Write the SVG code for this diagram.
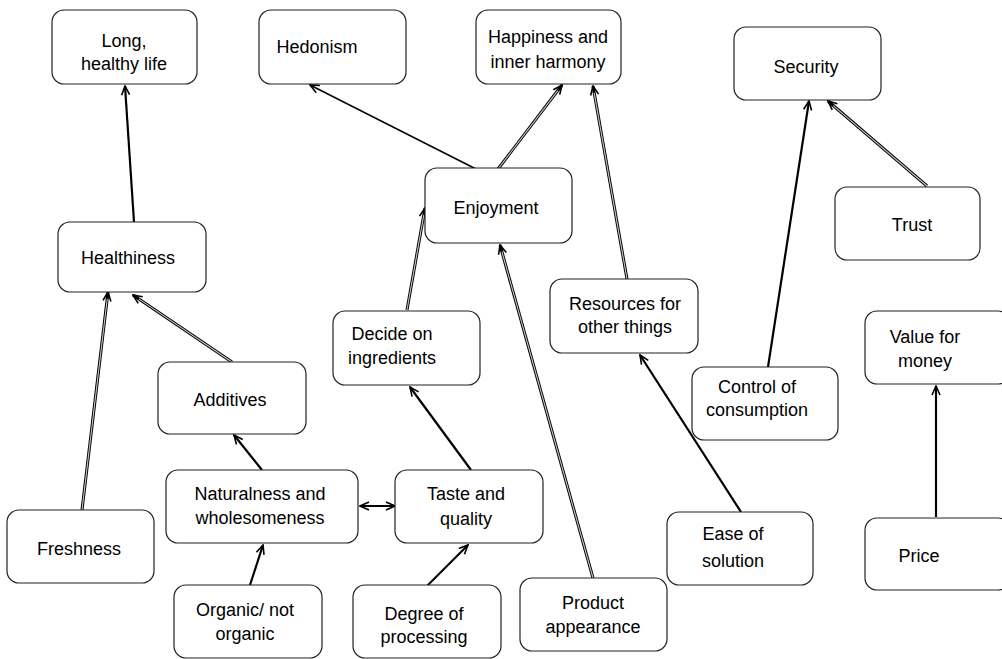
<svg xmlns="http://www.w3.org/2000/svg" width="1002" height="659" viewBox="0 0 1002 659">
  <style>
    .box { fill: #fff; stroke: #222; stroke-width: 1.2; }
    .lbl { font-family: "Liberation Sans", Arial, sans-serif; font-size: 18px; fill: #000; text-anchor: middle; }
    .thin { stroke: #000; stroke-width: 1.5; fill: none; }
    .thick { stroke: #000; stroke-width: 2.2; fill: none; }
    .dbl { stroke: #000; stroke-width: 3; fill: none; }
    .core { stroke: #c8c8c8; stroke-width: 1.1; fill: none; }
  </style>
  <defs>
    <marker id="arr" markerUnits="userSpaceOnUse" markerWidth="11" markerHeight="10" refX="10" refY="5" orient="auto-start-reverse">
      <path d="M1,1 L10,5 L1,9" fill="none" stroke="#000" stroke-width="1.6"/>
    </marker>
  </defs>
  <rect width="1002" height="659" fill="#fff"/>

  <g id="connectors">
    <line class="thick" x1="134" y1="222" x2="125" y2="86" marker-end="url(#arr)"/>
    <line class="thin" x1="476" y1="169" x2="310" y2="85" marker-end="url(#arr)"/>
    <line class="dbl" x1="498" y1="169" x2="562" y2="85" marker-end="url(#arr)"/>
    <line class="core" x1="498" y1="169" x2="557.8" y2="90.6"/>
    <line class="dbl" x1="407" y1="310" x2="425" y2="208" marker-end="url(#arr)"/>
    <line class="core" x1="407" y1="310" x2="423.8" y2="214.9"/>
    <line class="dbl" x1="593" y1="578" x2="500" y2="245" marker-end="url(#arr)"/>
    <line class="core" x1="593" y1="578" x2="501.9" y2="251.7"/>
    <line class="dbl" x1="627" y1="279" x2="593" y2="86" marker-end="url(#arr)"/>
    <line class="core" x1="627" y1="279" x2="594.2" y2="92.9"/>
    <line class="thick" x1="768" y1="367" x2="809" y2="101" marker-end="url(#arr)"/>
    <line class="dbl" x1="927" y1="186" x2="828" y2="101" marker-end="url(#arr)"/>
    <line class="core" x1="927" y1="186" x2="833.3" y2="105.6"/>
    <line class="thick" x1="741" y1="512" x2="640" y2="355" marker-end="url(#arr)"/>
    <line class="thick" x1="936" y1="517" x2="936" y2="386" marker-end="url(#arr)"/>
    <line class="dbl" x1="82" y1="510" x2="108" y2="292" marker-end="url(#arr)"/>
    <line class="core" x1="82" y1="510" x2="107.2" y2="299"/>
    <line class="dbl" x1="232" y1="362" x2="133" y2="295" marker-end="url(#arr)"/>
    <line class="core" x1="232" y1="362" x2="138.8" y2="298.9"/>
    <line class="thick" x1="262" y1="470" x2="234" y2="435" marker-end="url(#arr)"/>
    <line class="thick" x1="360" y1="506" x2="395" y2="506" marker-start="url(#arr)" marker-end="url(#arr)"/>
    <line class="thick" x1="471" y1="470" x2="410" y2="387" marker-end="url(#arr)"/>
    <line class="thick" x1="250" y1="585" x2="263" y2="545" marker-end="url(#arr)"/>
    <line class="thick" x1="427" y1="586" x2="468" y2="545" marker-end="url(#arr)"/>
  </g>

  <g id="long-healthy-life"><rect class="box" x="52" y="10" width="145" height="74" rx="12"/><text class="lbl" x="124" y="47">Long,</text><text class="lbl" x="124" y="70">healthy life</text></g>
  <g id="hedonism"><rect class="box" x="259" y="10" width="147" height="74" rx="12"/><text class="lbl" x="317" y="53">Hedonism</text></g>
  <g id="happiness"><rect class="box" x="476" y="10" width="145" height="74" rx="12"/><text class="lbl" x="548" y="43">Happiness and</text><text class="lbl" x="548" y="68">inner harmony</text></g>
  <g id="security"><rect class="box" x="734" y="27" width="147" height="73" rx="12"/><text class="lbl" x="806" y="73">Security</text></g>
  <g id="enjoyment"><rect class="box" x="425" y="168" width="147" height="75" rx="12"/><text class="lbl" x="496" y="214">Enjoyment</text></g>
  <g id="trust"><rect class="box" x="835" y="187" width="145" height="73" rx="12"/><text class="lbl" x="912" y="231">Trust</text></g>
  <g id="healthiness"><rect class="box" x="58" y="222" width="148" height="70" rx="12"/><text class="lbl" x="128" y="264">Healthiness</text></g>
  <g id="resources"><rect class="box" x="550" y="279" width="148" height="74" rx="12"/><text class="lbl" x="625" y="310">Resources for</text><text class="lbl" x="625" y="333">other things</text></g>
  <g id="decide-on-ingredients"><rect class="box" x="333" y="311" width="147" height="74" rx="12"/><text class="lbl" x="392" y="340">Decide on</text><text class="lbl" x="392" y="364">ingredients</text></g>
  <g id="value-for-money"><rect class="box" x="865" y="311" width="145" height="73" rx="12"/><text class="lbl" x="925" y="343">Value for</text><text class="lbl" x="925" y="367">money</text></g>
  <g id="additives"><rect class="box" x="158" y="362" width="148" height="72" rx="12"/><text class="lbl" x="230" y="406">Additives</text></g>
  <g id="control-of-consumption"><rect class="box" x="692" y="367" width="146" height="73" rx="12"/><text class="lbl" x="757" y="393">Control of</text><text class="lbl" x="757" y="416">consumption</text></g>
  <g id="naturalness"><rect class="box" x="166" y="470" width="192" height="73" rx="12"/><text class="lbl" x="260" y="500">Naturalness and</text><text class="lbl" x="260" y="524">wholesomeness</text></g>
  <g id="taste-and-quality"><rect class="box" x="395" y="470" width="148" height="73" rx="12"/><text class="lbl" x="466" y="500">Taste and</text><text class="lbl" x="466" y="525">quality</text></g>
  <g id="freshness"><rect class="box" x="7" y="510" width="147" height="73" rx="12"/><text class="lbl" x="79" y="555">Freshness</text></g>
  <g id="ease-of-solution"><rect class="box" x="667" y="512" width="146" height="73" rx="12"/><text class="lbl" x="733" y="540">Ease of</text><text class="lbl" x="733" y="567">solution</text></g>
  <g id="price"><rect class="box" x="865" y="518" width="145" height="72" rx="12"/><text class="lbl" x="919" y="562">Price</text></g>
  <g id="organic"><rect class="box" x="174" y="585" width="148" height="73" rx="12"/><text class="lbl" x="245" y="616">Organic/ not</text><text class="lbl" x="245" y="640">organic</text></g>
  <g id="degree-of-processing"><rect class="box" x="353" y="585" width="148" height="73" rx="12"/><text class="lbl" x="424" y="620">Degree of</text><text class="lbl" x="424" y="643">processing</text></g>
  <g id="product-appearance"><rect class="box" x="520" y="578" width="147" height="73" rx="12"/><text class="lbl" x="593" y="609">Product</text><text class="lbl" x="593" y="633">appearance</text></g>
</svg>
